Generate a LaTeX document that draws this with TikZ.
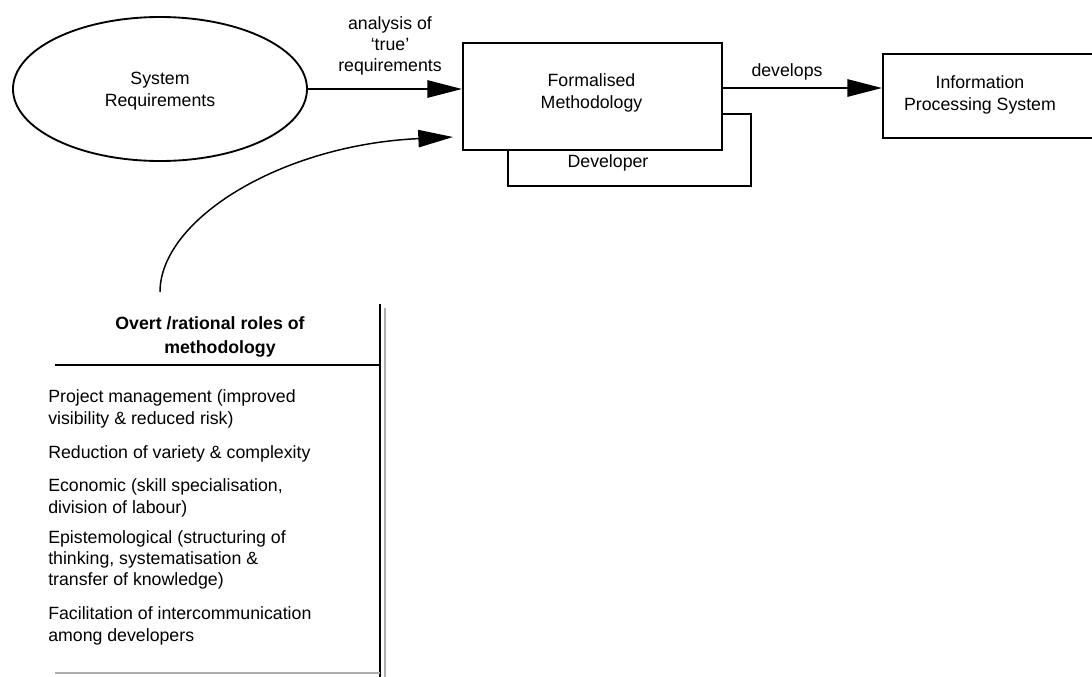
\documentclass[tikz,border=0pt]{standalone}
\usepackage{fontspec}
\setmainfont{Liberation Sans}
\usetikzlibrary{arrows.meta,shapes.geometric}
\begin{document}
\begin{tikzpicture}[x=0.75pt,y=-0.75pt,
  every node/.style={font=\fontsize{13.3}{16}\selectfont, inner sep=0pt},
  frame/.style={draw, line width=1.4pt, fill=white},
  txt/.style={align=center},
  item/.style={align=left, anchor=west},
  arr/.style={line width=1.4pt, -{Triangle[length=26pt,width=13pt]}},
  curvearr/.style={line width=1.1pt, -{Triangle[length=26pt,width=13pt]}},
  rule/.style={line width=1.4pt},
  greyrule/.style={line width=1.4pt, draw=black!32}
]
\useasboundingbox (0,0) rectangle (1092,676);
\clip (0,0) rectangle (1092,676);

% source ellipse
\node[ellipse, draw, line width=1.4pt, minimum width=294*0.75pt, minimum height=144*0.75pt] (sr) at (160,89) {};
\node[txt] (srt) at (160,91) {System\\Requirements};

% developer box sits behind the methodology box
\node[frame, anchor=north west, minimum width=243*0.75pt, minimum height=72*0.75pt] (dev) at (507,113) {};
\node (devt) at (608,163) {Developer};

% methodology box
\node[frame, anchor=north west, minimum width=259*0.75pt, minimum height=107*0.75pt] (fm) at (462,42) {};
\node[txt] (fmt) at (591.5,93) {Formalised\\Methodology};

% information processing system box (runs off the right edge)
\node[frame, anchor=north west, minimum width=230*0.75pt, minimum height=84*0.75pt] (ips) at (882,53) {};
\node[txt] (ipst) at (980,95) {Information\\Processing System};

% connectors
\draw[arr] (sr.east) -- (fm.west |- sr.east);
\node[txt] (anl) at (390,46) {analysis of\\‘true’\\requirements};

\coordinate (devfrom) at (721,88);
\draw[arr] (devfrom) -- (ips.west |- devfrom);
\node (devl) at (787,72) {develops};

% roles table
\draw[rule] (380,304) -- (380,680);
\draw[greyrule] (385,308) -- (385,680);
\draw[rule] (55,365) -- (380,365);
\draw[greyrule] (55,673) -- (380,673);

\node[txt, font=\fontsize{13.3}{16}\selectfont\bfseries] (roles) at (210,337) {Overt /rational roles of\\[1.5pt]\hspace*{15pt}methodology};

\coordinate (rolestop) at (160,292);
\coordinate (fmin) at (453,137);
\draw[curvearr] (rolestop) .. controls (160,220) and (280,145) .. (fmin);

\node[item] (r1) at (48,409) {Project management (improved\\visibility \& reduced risk)};
\node[item] (r2) at (48,454) {Reduction of variety \& complexity};
\node[item] (r3) at (48,498) {Economic (skill specialisation,\\division of labour)};
\node[item] (r4) at (48,560) {Epistemological (structuring of\\thinking, systematisation \&\\transfer of knowledge)};
\node[item] (r5) at (48,626) {Facilitation of intercommunication\\among developers};
\end{tikzpicture}
\end{document}
